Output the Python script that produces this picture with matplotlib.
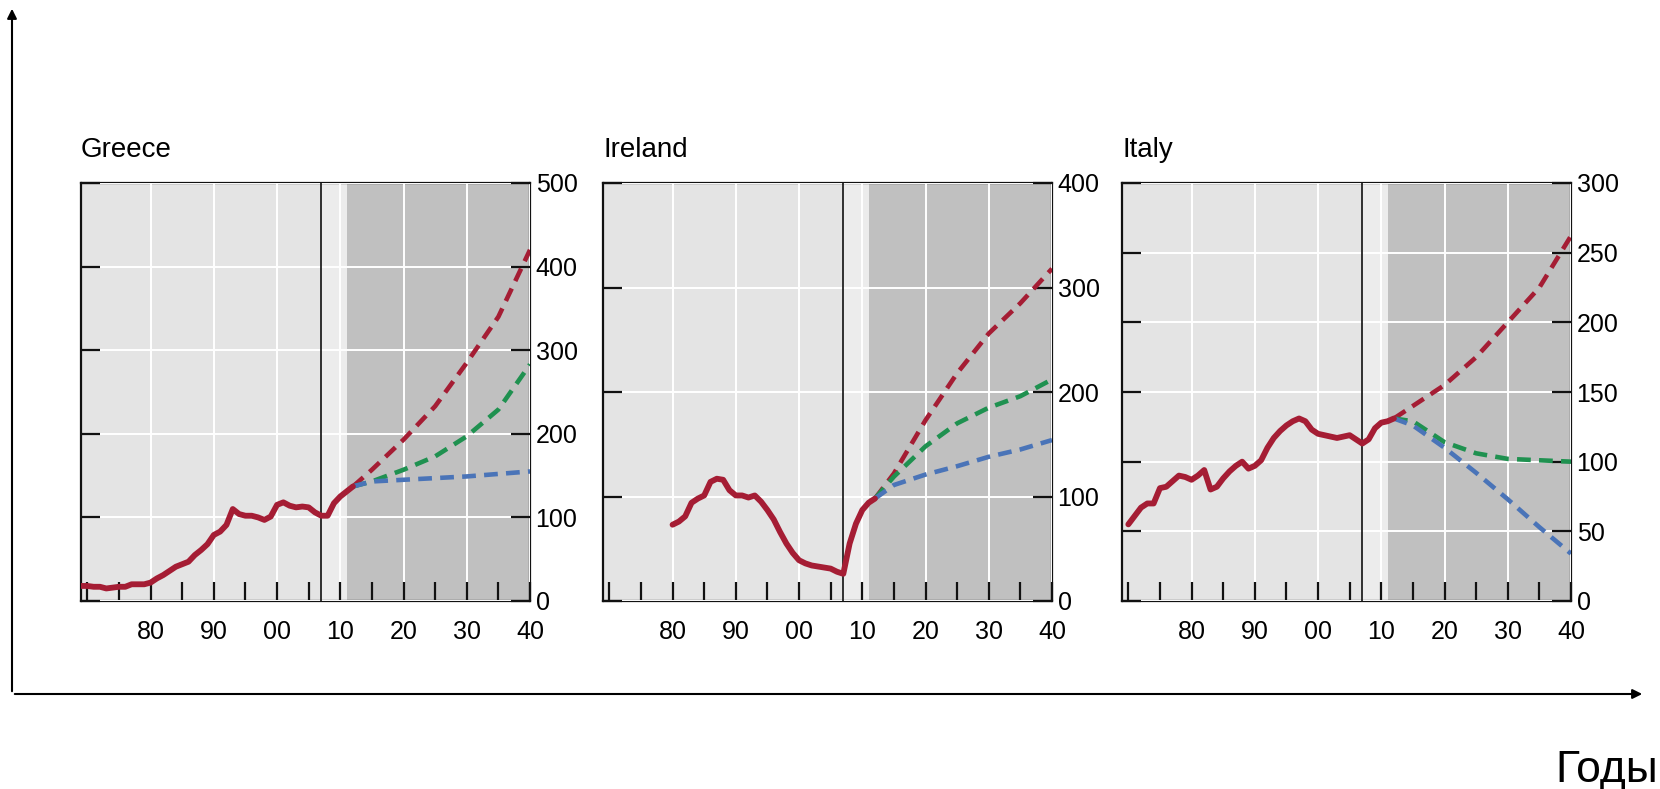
import numpy as np
import matplotlib
matplotlib.use("Agg")
import matplotlib.pyplot as plt
from matplotlib.patches import FancyArrowPatch

plt.rcParams['font.family'] = ['Liberation Sans', 'DejaVu Sans']

# Debt paths, % of GDP
greece_years = [1969, 1970, 1971, 1972, 1973, 1974, 1975, 1976, 1977, 1978, 1979,
                1980, 1981, 1982, 1983, 1984, 1985, 1986, 1987, 1988, 1989,
                1990, 1991, 1992, 1993, 1994, 1995, 1996, 1997, 1998, 1999,
                2000, 2001, 2002, 2003, 2004, 2005, 2006, 2007, 2008, 2009,
                2010, 2011, 2012]
greece_hist = [18, 18, 17, 17, 15, 16, 17, 17, 20, 20, 20,
               22, 27, 31, 36, 41, 44, 47, 55, 61, 68,
               79, 83, 91, 110, 104, 102, 102, 100, 97, 101,
               115, 118, 114, 112, 113, 112, 106, 102, 102, 117,
               125, 131, 137]

ireland_years = [1980, 1981, 1982, 1983, 1984, 1985, 1986, 1987, 1988, 1989,
                 1990, 1991, 1992, 1993, 1994, 1995, 1996, 1997, 1998, 1999,
                 2000, 2001, 2002, 2003, 2004, 2005, 2006, 2007, 2008, 2009,
                 2010, 2011, 2012]
ireland_hist = [73, 76, 81, 94, 98, 101, 114, 117, 116, 106,
                101, 101, 99, 101, 95, 87, 78, 66, 55, 46,
                39, 36, 34, 33, 32, 31, 28, 26, 55, 74,
                87, 94, 98]

italy_years = [1970, 1971, 1972, 1973, 1974, 1975, 1976, 1977, 1978, 1979,
               1980, 1981, 1982, 1983, 1984, 1985, 1986, 1987, 1988, 1989,
               1990, 1991, 1992, 1993, 1994, 1995, 1996, 1997, 1998, 1999,
               2000, 2001, 2002, 2003, 2004, 2005, 2006, 2007, 2008, 2009,
               2010, 2011, 2012]
italy_hist = [55, 61, 67, 70, 70, 81, 82, 86, 90, 89,
              87, 90, 94, 80, 82, 88, 93, 97, 100, 95,
              97, 101, 110, 117, 122, 126, 129, 131, 129, 123,
              120, 119, 118, 117, 118, 119, 116, 113, 116, 124,
              128, 129, 131]

proj_years = [2012, 2015, 2020, 2025, 2030, 2035, 2040]
greece_red = [137, 157, 193, 233, 285, 340, 420]
greece_green = [137, 143, 157, 173, 197, 229, 283]
greece_blue = [137, 143, 145, 147, 149, 152, 155]

ireland_red = [98, 122, 173, 218, 256, 285, 318]
ireland_green = [98, 119, 148, 170, 185, 196, 212]
ireland_blue = [98, 111, 121, 129, 138, 145, 154]

italy_red = [131, 140, 155, 175, 200, 225, 262]
italy_green = [131, 129, 114, 106, 102, 101, 100]
italy_blue = [131, 126, 110, 92, 73, 53, 34]

countries = ['Greece', 'Ireland', 'Italy']
y_max = [500, 400, 300]
y_step = [100, 100, 50]

RED = '#a51d34'
GREEN = '#1f9150'
BLUE = '#4a74b8'

fig = plt.figure(figsize=(16.6, 7.89), dpi=100)
lefts = [81 / 1660, 603 / 1660, 1122 / 1660]
width = 449 / 1660
bottom = 1 - 601 / 789
height = 418 / 789

hist = [(greece_years, greece_hist), (ireland_years, ireland_hist), (italy_years, italy_hist)]
proj = [(greece_red, greece_green, greece_blue),
        (ireland_red, ireland_green, ireland_blue),
        (italy_red, italy_green, italy_blue)]

for i, name in enumerate(countries):
    ax = fig.add_axes([lefts[i], bottom, width, height])
    ax.set_facecolor('#e4e4e4')
    ax.axvspan(2007, 2011, color='#ececec', lw=0, zorder=1)
    ax.axvspan(2011, 2040, color='#c0c0c0', lw=0, zorder=1)
    ax.set_axisbelow(False)

    ax.set_xlim(1969, 2040)
    ax.set_ylim(0, y_max[i])

    ax.set_xticks(np.arange(1980, 2041, 10))
    ax.set_xticklabels(['80', '90', '00', '10', '20', '30', '40'])
    ax.set_xticks(np.arange(1970, 2036, 5), minor=True)
    ax.set_yticks(np.arange(0, y_max[i] + 1, y_step[i]))

    ax.grid(True, which='major', color='white', lw=1.4)
    ax.tick_params(axis='x', which='both', direction='in', length=14, width=1.6,
                   labelsize=18, pad=14, color='#111111')
    ax.tick_params(axis='y', direction='in', length=14, width=1.6, left=True, right=True,
                   labelleft=False, labelright=True, labelsize=18, pad=4, color='#111111')
    for s in ax.spines.values():
        s.set_linewidth(1.6)
        s.set_color('#111111')

    ax.axvline(2007, color='#111111', lw=1.2, zorder=3)

    r, g, b = proj[i]
    ax.plot(proj_years, r, color=RED, lw=3.3, ls=(0, (3, 1.8)), zorder=4)
    ax.plot(proj_years, g, color=GREEN, lw=3.3, ls=(0, (3, 1.8)), zorder=4)
    ax.plot(proj_years, b, color=BLUE, lw=3.3, ls=(0, (3, 1.8)), zorder=4)
    ax.plot(hist[i][0], hist[i][1], color=RED, lw=4.2, zorder=5,
            solid_joinstyle='round', solid_capstyle='round')

    ax.text(0, 1.062, name, transform=ax.transAxes, fontsize=20, va='baseline', ha='left')

# big axis arrows
x0 = 12 / 1660
y0 = 1 - 694 / 789
fig.add_artist(FancyArrowPatch((x0, y0), (x0, 1 - 6 / 789), transform=fig.transFigure,
                               arrowstyle='-|>', mutation_scale=14, lw=1.5, color='black'))
fig.add_artist(FancyArrowPatch((x0, y0), (1645 / 1660, y0), transform=fig.transFigure,
                               arrowstyle='-|>', mutation_scale=14, lw=1.5, color='black'))
fig.text(0.999, 1 - 782 / 789, 'Годы', fontsize=32, ha='right', va='baseline')

fig.savefig('out.png', dpi=100)
